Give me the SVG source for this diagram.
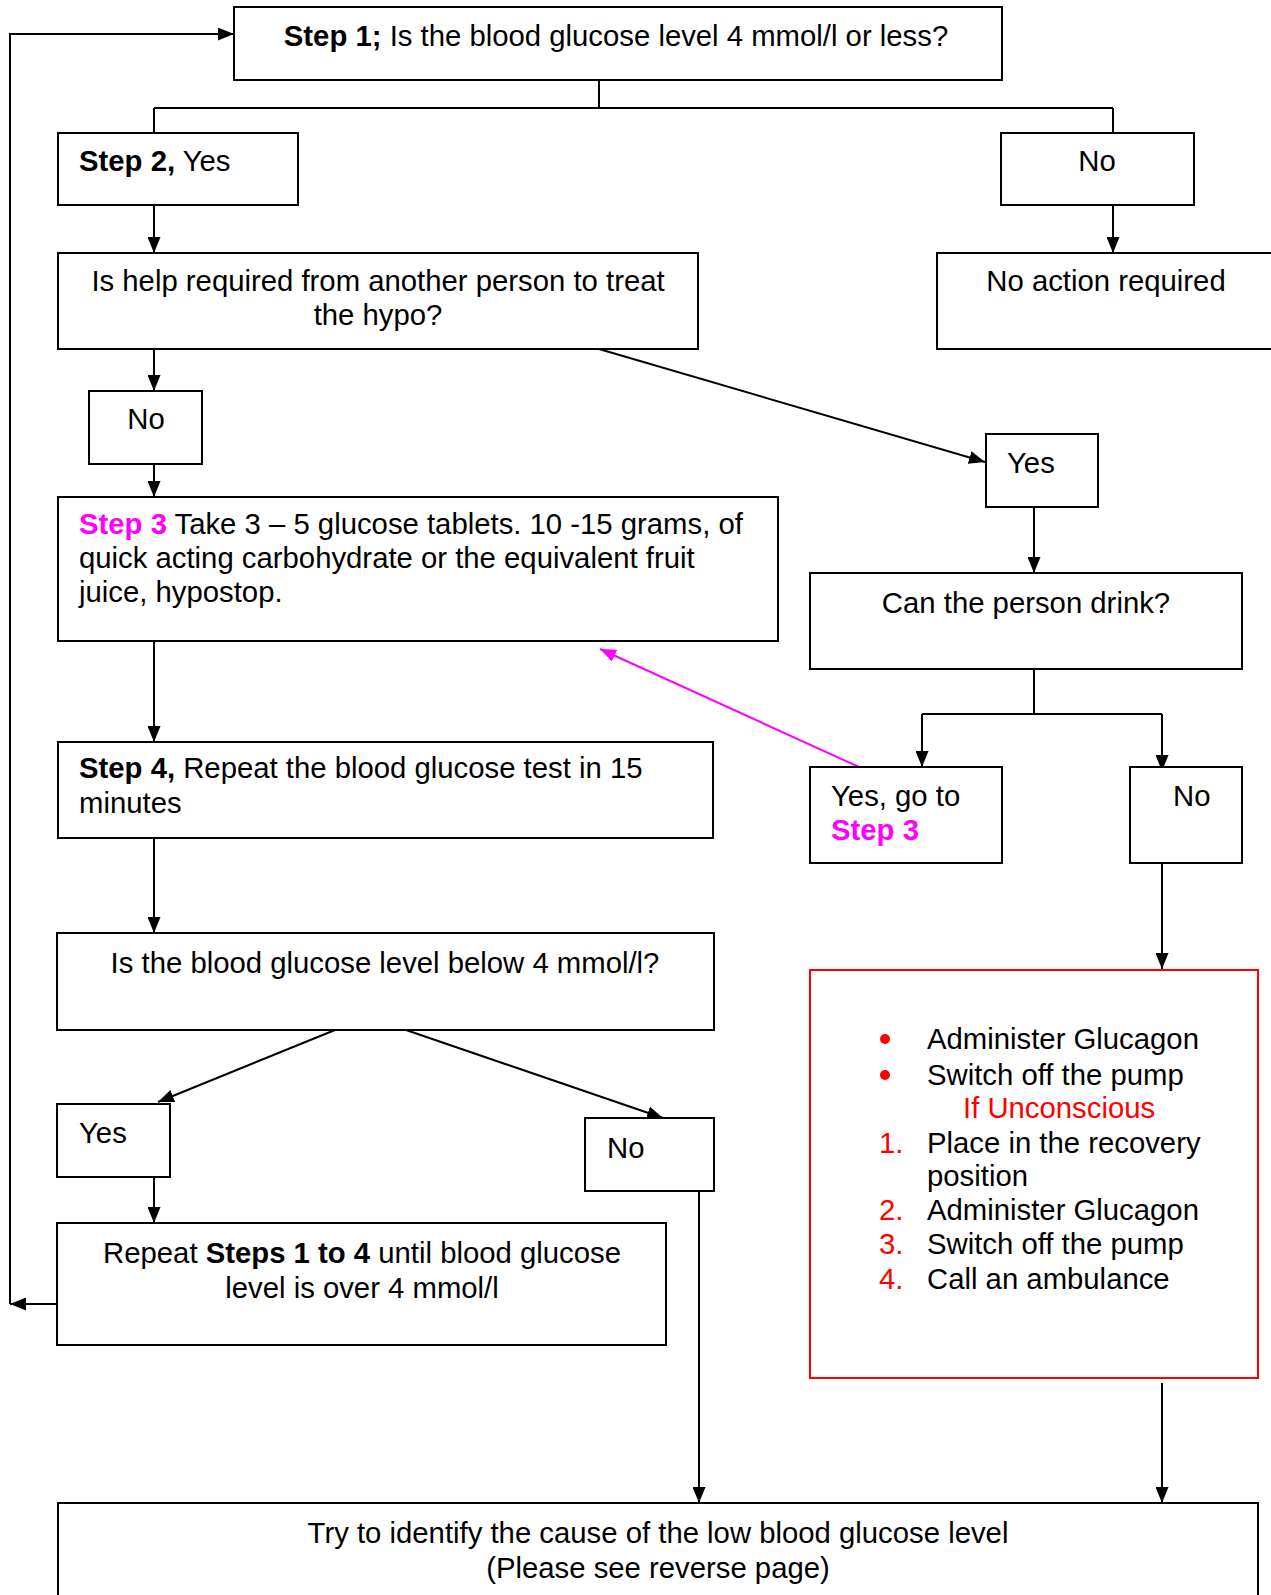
<svg xmlns="http://www.w3.org/2000/svg" width="1271" height="1595" viewBox="0 0 1271 1595">
<style>
text{font-family:"Liberation Sans",Arial,sans-serif;font-size:29.3px;fill:#000}
.b{font-weight:bold}
.m{fill:#FF00FF}
.r{fill:#FF0000}
.c{text-anchor:middle}
.box{fill:#fff;stroke:#000;stroke-width:2}
.rbox{fill:#fff;stroke:#FF0000;stroke-width:2}
.ln{fill:none;stroke:#000;stroke-width:2}
.mln{fill:none;stroke:#FF00FF;stroke-width:2}
</style>
<defs>
<marker id="ah" markerUnits="userSpaceOnUse" markerWidth="16" markerHeight="13" refX="16" refY="6.5" orient="auto"><path d="M0,0 L16,6.5 L0,13 z" fill="#000"/></marker>
<marker id="mh" markerUnits="userSpaceOnUse" markerWidth="16" markerHeight="13" refX="16" refY="6.5" orient="auto"><path d="M0,0 L16,6.5 L0,13 z" fill="#FF00FF"/></marker>
</defs>
<g id="connectors">
<path class="ln" d="M599,80 V108 M154,108 H1113 M154,108 V133 M1113,108 V133"/>
<path class="ln" d="M154,205 V253" marker-end="url(#ah)"/>
<path class="ln" d="M1113,205 V253" marker-end="url(#ah)"/>
<path class="ln" d="M154,349 V391" marker-end="url(#ah)"/>
<path class="ln" d="M599,349 L985,462" marker-end="url(#ah)"/>
<path class="ln" d="M154,464 V497" marker-end="url(#ah)"/>
<path class="ln" d="M1034,507 V573" marker-end="url(#ah)"/>
<path class="ln" d="M154,638 V742" marker-end="url(#ah)"/>
<path class="ln" d="M1034,669 V714 M922,714 H1162"/>
<path class="ln" d="M922,714 V767" marker-end="url(#ah)"/>
<path class="ln" d="M1162,714 V771" marker-end="url(#ah)"/>
<path class="mln" d="M859,767 L600,649" marker-end="url(#mh)"/>
<path class="ln" d="M154,838 V933" marker-end="url(#ah)"/>
<path class="ln" d="M1162,863 V969" marker-end="url(#ah)"/>
<path class="ln" d="M335,1030 L158,1102" marker-end="url(#ah)"/>
<path class="ln" d="M406,1030 L663,1118" marker-end="url(#ah)"/>
<path class="ln" d="M154,1177 V1223" marker-end="url(#ah)"/>
<path class="ln" d="M57,1304 H10" marker-end="url(#ah)"/>
<path class="ln" d="M10,1304 V34 H234" marker-end="url(#ah)"/>
<path class="ln" d="M699,1191 V1503" marker-end="url(#ah)"/>
<path class="ln" d="M1162,1383 V1503" marker-end="url(#ah)"/>
</g>
<g id="step1">
<rect class="box" x="234" y="7" width="768" height="73"/>
<text x="616" y="46" class="c"><tspan class="b">Step 1;</tspan> Is the blood glucose level 4 mmol/l or less?</text>
</g>
<g id="step2">
<rect class="box" x="58" y="133" width="240" height="72"/>
<text x="79" y="171"><tspan class="b">Step 2,</tspan> Yes</text>
</g>
<g id="no1">
<rect class="box" x="1001" y="133" width="193" height="72"/>
<text x="1097" y="171" class="c">No</text>
</g>
<g id="help">
<rect class="box" x="58" y="253" width="640" height="96"/>
<text x="378" y="291" class="c">Is help required from another person to treat</text>
<text x="378" y="325" class="c">the hypo?</text>
</g>
<g id="noaction">
<rect class="box" x="937" y="253" width="340" height="96"/>
<text x="1106" y="291" class="c">No action required</text>
</g>
<g id="no2">
<rect class="box" x="89" y="391" width="113" height="73"/>
<text x="146" y="429" class="c">No</text>
</g>
<g id="yes1">
<rect class="box" x="986" y="434" width="112" height="73"/>
<text x="1007" y="473">Yes</text>
</g>
<g id="step3">
<rect class="box" x="58" y="497" width="720" height="144"/>
<text x="79" y="534"><tspan class="b m">Step 3</tspan> Take 3 – 5 glucose tablets. 10 -15 grams, of</text>
<text x="79" y="568">quick acting carbohydrate or the equivalent fruit</text>
<text x="79" y="602">juice, hypostop.</text>
</g>
<g id="drink">
<rect class="box" x="810" y="573" width="432" height="96"/>
<text x="1026" y="613" class="c">Can the person drink?</text>
</g>
<g id="step4">
<rect class="box" x="58" y="742" width="655" height="96"/>
<text x="79" y="778"><tspan class="b">Step 4,</tspan> Repeat the blood glucose test in 15</text>
<text x="79" y="813">minutes</text>
</g>
<g id="yesgo">
<rect class="box" x="810" y="767" width="192" height="96"/>
<text x="831" y="806">Yes, go to</text>
<text x="831" y="840" class="b m">Step 3</text>
</g>
<g id="no3">
<rect class="box" x="1130" y="767" width="112" height="96"/>
<text x="1173" y="806">No</text>
</g>
<g id="below">
<rect class="box" x="57" y="933" width="657" height="97"/>
<text x="385" y="973" class="c">Is the blood glucose level below 4 mmol/l?</text>
</g>
<g id="unconscious">
<rect class="rbox" x="810" y="970" width="448" height="408"/>
<circle cx="885" cy="1039" r="5" fill="#FF0000"/>
<text x="927" y="1049">Administer Glucagon</text>
<circle cx="885" cy="1075" r="5" fill="#FF0000"/>
<text x="927" y="1085">Switch off the pump</text>
<text x="963" y="1118" class="r">If Unconscious</text>
<text x="879" y="1153" class="r">1.</text>
<text x="927" y="1153">Place in the recovery</text>
<text x="927" y="1186">position</text>
<text x="879" y="1220" class="r">2.</text>
<text x="927" y="1220">Administer Glucagon</text>
<text x="879" y="1254" class="r">3.</text>
<text x="927" y="1254">Switch off the pump</text>
<text x="879" y="1289" class="r">4.</text>
<text x="927" y="1289">Call an ambulance</text>
</g>
<g id="yes2">
<rect class="box" x="57" y="1104" width="113" height="73"/>
<text x="79" y="1143">Yes</text>
</g>
<g id="no4">
<rect class="box" x="585" y="1118" width="129" height="73"/>
<text x="607" y="1158">No</text>
</g>
<g id="repeat">
<rect class="box" x="57" y="1223" width="609" height="122"/>
<text x="362" y="1263" class="c">Repeat <tspan class="b">Steps 1 to 4</tspan> until blood glucose</text>
<text x="362" y="1298" class="c">level is over 4 mmol/l</text>
</g>
<g id="cause">
<rect class="box" x="58" y="1503" width="1200" height="110"/>
<text x="658" y="1543" class="c">Try to identify the cause of the low blood glucose level</text>
<text x="658" y="1578" class="c">(Please see reverse page)</text>
</g>
</svg>
